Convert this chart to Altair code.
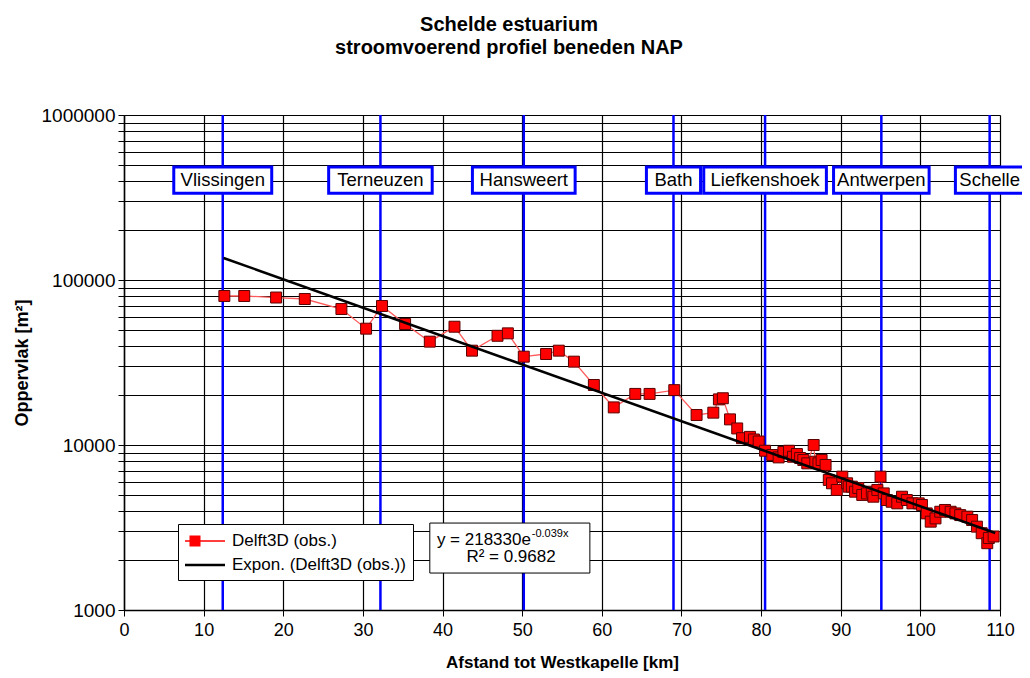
import altair as alt
import pandas as pd

# ---------------- data ----------------
km = [12.6, 15.1, 19.1, 22.7, 27.3, 30.4, 32.4, 35.3, 38.4, 41.5, 43.7, 46.9, 48.2,
      50.2, 53.0, 54.6, 56.5, 59.0, 61.5, 64.2, 66.0, 69.1, 71.9, 74.0, 74.7, 75.2,
      76.1, 77.0, 77.6, 78.6, 79.1, 79.7, 80.5, 81.4, 82.2, 82.8, 83.5, 84.0, 84.5,
      84.9, 85.3, 85.8, 86.6, 86.8, 87.2, 87.6, 88.1, 88.5, 88.9, 89.5, 90.2, 90.8,
      91.0, 91.4, 91.8, 92.2, 92.7, 93.3, 93.9, 94.1, 94.6, 95.0, 95.4, 95.8, 96.4,
      97.1, 97.7, 98.3, 99.0, 99.8, 100.2, 100.8, 101.3, 101.9, 102.5, 103.1, 103.8,
      104.4, 105.0, 105.9, 106.5, 107.1, 107.7, 108.4, 108.6, 109.2]
area = [80000, 80000, 78300, 76700, 66700, 50700, 69600, 54100, 42300, 52100, 37300,
        45900, 47500, 34300, 35600, 37300, 32000, 23100, 16900, 20400, 20400, 21500,
        15200, 15700, 18900, 19200, 14300, 12600, 11000, 11200, 10800, 10500, 9230,
        8700, 8410, 9070, 9230, 8490, 8820, 8340, 8110, 7740, 10000, 7920, 7740, 8110,
        7570, 6140, 5860, 5340, 6430, 5860, 5590, 5590, 5210, 5490, 4980, 5090, 5210,
        4860, 5340, 6430, 5090, 4640, 4530, 4430, 4860, 4640, 4430, 4430, 4330, 3850,
        3430, 3590, 3940, 4040, 3940, 3850, 3760, 3680, 3510, 3200, 2920, 2540, 2730,
        2790]

trend_km = [12.5, 109.4]
trend_area = [136000, 2930]

stations = ["Vlissingen", "Terneuzen", "Hansweert", "Bath", "Liefkenshoek",
            "Antwerpen", "Schelle"]
station_km = [12.4, 32.2, 50.2, 69.0, 80.5, 95.1, 108.7]

series_names = ["Delft3D (obs.)", "Expon. (Delft3D (obs.))"]

x_ticks = list(range(0, 111, 10))
y_grid = [m * 10 ** e for e in range(3, 6) for m in range(1, 10)] + [1000000]

# ---------------- layout / style (annotation positions) ----------------
FONT = "Liberation Sans, Arial, sans-serif"
NARROW = "Liberation Sans Narrow, Arial Narrow, Liberation Sans, sans-serif"
box_half = [6.15, 6.5, 6.45, 3.4, 7.7, 6.0, 4.3]   # half width of label boxes (km)
box_top, box_bottom, box_mid = 484000, 336000, 404000

eq_box = dict(x=38.4, x2=58.5, y=3365, y2=1675)

obs = pd.DataFrame({"km": km, "area": area})
trend = pd.DataFrame({"km": trend_km, "area": trend_area})
st = pd.DataFrame({
    "name": stations, "km": station_km,
    "x0": [k - h for k, h in zip(station_km, box_half)],
    "x1": [k + h for k, h in zip(station_km, box_half)],
    "top": box_top, "bottom": box_bottom, "mid": box_mid,
})

xs = alt.Scale(domain=[0, 110], nice=False, zero=False)
ys = alt.Scale(type="log", domain=[1000, 1000000], nice=False)

x_axis = alt.Axis(values=x_ticks, grid=True, gridColor="black", gridWidth=1.2,
                  domainColor="black", domainWidth=1.5, tickColor="black", tickSize=6,
                  labelFont=NARROW, labelFontSize=18, labelColor="black", labelPadding=5,
                  title="Afstand  tot Westkapelle [km]", titleFont=FONT, titleFontSize=17,
                  titleFontWeight="bold", titleColor="black", titlePadding=15,
                  labelFlush=False)
y_axis = alt.Axis(values=y_grid, grid=True, gridColor="black", gridWidth=1.2,
                  domainColor="black", domainWidth=1.5, tickColor="black", tickSize=6,
                  labelExpr="(datum.value == 1000 || datum.value == 10000 || datum.value == 100000 || datum.value == 1000000) ? format(datum.value, 'd') : ''",
                  labelFont=FONT, labelFontSize=19, labelColor="black", labelPadding=3,
                  title="Oppervlak [m²]", titleFont=FONT, titleFontSize=18,
                  titleFontWeight="bold", titleColor="black", titlePadding=10)

base_x = alt.X("km:Q", scale=xs, axis=x_axis)
base_y = alt.Y("area:Q", scale=ys, axis=y_axis)

rules = alt.Chart(st).mark_rule(color="#0000ff", strokeWidth=2.5).encode(
    x=alt.X("km:Q", scale=xs))

label_boxes = alt.Chart(st).mark_rect(fill="white", stroke="#0000ff", strokeWidth=3).encode(
    x=alt.X("x0:Q", scale=xs), x2="x1:Q",
    y=alt.Y("top:Q", scale=ys), y2="bottom:Q")

label_text = alt.Chart(st).mark_text(font=FONT, fontSize=18.5, color="black",
                                     baseline="middle").encode(
    x=alt.X("km:Q", scale=xs), y=alt.Y("mid:Q", scale=ys), text="name:N")

eq_rect = alt.Chart(pd.DataFrame([eq_box])).mark_rect(
    fill="white", stroke="black", strokeWidth=1).encode(
    x=alt.X("x:Q", scale=xs), x2="x2:Q", y=alt.Y("y:Q", scale=ys), y2="y2:Q")

eq_text = pd.DataFrame({
    "x": [51.1, 51.2, 48.6],
    "y": [2655, 2890, 2095],
    "t": ["y = 218330e", "-0.039x", "R² = 0.9682"],
})
eq1 = alt.Chart(eq_text.iloc[[0]]).mark_text(font=FONT, fontSize=17, align="right",
                                             baseline="middle", color="black").encode(
    x=alt.X("x:Q", scale=xs), y=alt.Y("y:Q", scale=ys), text="t:N")
eq2 = alt.Chart(eq_text.iloc[[1]]).mark_text(font=FONT, fontSize=11, align="left",
                                             baseline="middle", color="black").encode(
    x=alt.X("x:Q", scale=xs), y=alt.Y("y:Q", scale=ys), text="t:N")
eq3 = alt.Chart(eq_text.iloc[[2]]).mark_text(font=FONT, fontSize=17, align="center",
                                             baseline="middle", color="black").encode(
    x=alt.X("x:Q", scale=xs), y=alt.Y("y:Q", scale=ys), text="t:N")

obs_line = alt.Chart(obs).mark_line(color="#ff5a5a", strokeWidth=1.3).encode(
    x=base_x, y=base_y, order="km:Q")
obs_pts = alt.Chart(obs).mark_point(shape="square", filled=True, fill="#ff0000",
                                    stroke="#5a0000", strokeWidth=1, size=120,
                                    opacity=1).encode(x=base_x, y=base_y)
trend_line = alt.Chart(trend).mark_line(color="black", strokeWidth=2.5).encode(
    x=base_x, y=base_y)

# legend symbols drawn as filled paths: thin bar (line) plus square marker
legend_df = pd.DataFrame({"series": series_names})
legend_layer = alt.Chart(legend_df).mark_point(filled=True, opacity=0).encode(
    color=alt.Color("series:N",
                    scale=alt.Scale(domain=series_names, range=["#ff0000", "black"]),
                    legend=alt.Legend(orient="none", legendX=54, legendY=409,
                                      title=None, fillColor="white", strokeColor="black",
                                      padding=7, rowPadding=6, symbolSize=400,
                                      symbolStrokeWidth=0, symbolOpacity=1,
                                      labelOffset=27,
                                      labelFont=FONT, labelFontSize=17,
                                      labelColor="black", labelLimit=400)),
    shape=alt.Shape("series:N",
                    scale=alt.Scale(domain=series_names,
                                    range=["M-1,-0.07H3V0.07H-1ZM-0.55,-0.55H0.55V0.55H-0.55Z",
                                           "M-1,-0.12H3V0.12H-1Z"]),
                    legend=None),
)

chart = alt.layer(
    rules, label_boxes, label_text, eq_rect, eq1, eq2, eq3,
    obs_line, obs_pts, trend_line, legend_layer,
).resolve_scale(color="independent", shape="independent").properties(
    width=876, height=495,
    autosize=alt.AutoSizeParams(type="none"),
    padding={"left": 116, "top": 107, "right": 22, "bottom": 66},
    title=alt.TitleParams(text=["Schelde estuarium", "stroomvoerend profiel beneden NAP"],
                          anchor="middle", dx=-53, offset=48, fontSize=20,
                          font=FONT, fontWeight="bold", color="black", lineHeight=23),
).configure_view(stroke="#9a9a9a", strokeWidth=1).configure(background="white")

chart.save("out.html", embed_options={"renderer": "svg", "actions": False})
